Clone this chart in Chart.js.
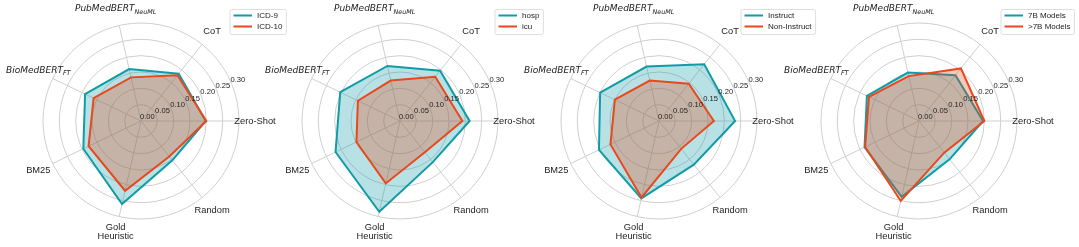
<!DOCTYPE html>
<html>
<head>
<meta charset="utf-8">
<script src="https://cdn.jsdelivr.net/npm/chart.js@4.4.1/dist/chart.umd.min.js"></script>
<style>
  html, body { margin: 0; padding: 0; background: #fff; overflow: hidden; }
  #wrap { position: relative; width: 1079px; height: 247px; }
  canvas { position: absolute; top: 0; }
</style>
</head>
<body>
<div id="wrap">
  <canvas id="radar-0" width="320" height="247"></canvas>
  <canvas id="radar-1" width="320" height="247"></canvas>
  <canvas id="radar-2" width="320" height="247"></canvas>
  <canvas id="radar-3" width="320" height="247"></canvas>
</div>
<script>
// Axes in clockwise order starting at the right (Zero-Shot)
const categories = ['Zero-Shot', 'Random', 'Gold\nHeuristic', 'BM25', 'BioMedBERT_FT', 'PubMedBERT_NeuML', 'CoT'];
const tickValues = [0, 0.05, 0.10, 0.15, 0.20, 0.25, 0.30];
const tickLabels = ['0.00', '0.05', '0.10', '0.15', '0.20', '0.25', '0.30'];

// values: Zero-Shot, Random, Gold Heuristic, BM25, BioMedBERT, PubMedBERT, CoT
const icd9 = [0.198, 0.154, 0.261, 0.196, 0.190, 0.163, 0.185];
const icd10 = [0.200, 0.139, 0.219, 0.178, 0.161, 0.137, 0.179];
const hosp = [0.213, 0.161, 0.285, 0.219, 0.203, 0.173, 0.197];
const icu = [0.191, 0.122, 0.196, 0.148, 0.143, 0.127, 0.173];
const instruct = [0.233, 0.171, 0.243, 0.204, 0.200, 0.171, 0.222];
const nonInstruct = [0.168, 0.109, 0.240, 0.165, 0.150, 0.127, 0.146];
const models7b = [0.196, 0.150, 0.238, 0.185, 0.177, 0.152, 0.179];
const modelsOver7b = [0.200, 0.124, 0.251, 0.183, 0.170, 0.141, 0.206];

const seriesNames = [['ICD-9', 'ICD-10'], ['hosp', 'icu'], ['Instruct', 'Non-Instruct'], ['7B Models', '>7B Models']];
const seriesValues = [[icd9, icd10], [hosp, icu], [instruct, nonInstruct], [models7b, modelsOver7b]];

// layout (pixels)
const centersX = [141, 400, 659, 919];
const legendLeft = [249, 255, 242, 242]; // relative to each canvas

const TEAL = '#109ca6';
const TEAL_FILL = 'rgba(16, 156, 166, 0.3)';
const ORANGE = '#e8481c';
const ORANGE_FILL = 'rgba(232, 72, 28, 0.3)';
const FONT = '"Liberation Sans", Arial, sans-serif';
const MATH_FONT = '"DejaVu Sans", sans-serif';

// Draw an axis label, centred on (x, y); "A_B" means italic A with subscript B
function drawLabel(ctx, label, x, y) {
  const lines = label.split('\n');
  const lineH = 9.5;
  lines.forEach((line, k) => {
    const ly = y + (k - (lines.length - 1) / 2) * lineH;
    ctx.textBaseline = 'middle';
    ctx.fillStyle = '#222';
    if (line.includes('_')) {
      const [main, sub] = line.split('_');
      ctx.font = 'italic 9px ' + MATH_FONT;
      const mw = ctx.measureText(main).width;
      ctx.font = 'italic 6.4px ' + MATH_FONT;
      const sw = ctx.measureText(sub).width;
      const x0 = x - (mw + sw) / 2;
      ctx.textAlign = 'left';
      ctx.font = 'italic 9px ' + MATH_FONT;
      ctx.fillText(main, x0, ly - 1);
      ctx.font = 'italic 6.4px ' + MATH_FONT;
      ctx.fillText(sub, x0 + mw, ly + 2);
    } else {
      ctx.font = '9.3px ' + FONT;
      ctx.textAlign = 'center';
      ctx.fillText(line, x, ly);
    }
  });
}

const radarDecor = {
  id: 'radarDecor',
  afterDatasetsDraw(chart, args, opts) {
    const r = chart.scales.r;
    const ctx = chart.ctx;
    ctx.save();

    // radial tick labels along 22.5 degrees
    ctx.font = '7.6px ' + FONT;
    ctx.fillStyle = '#222';
    ctx.textAlign = 'left';
    ctx.textBaseline = 'bottom';
    const a = -22.5 * Math.PI / 180;
    tickValues.forEach((v, i) => {
      const d = r.getDistanceFromCenterForValue(v);
      ctx.fillText(tickLabels[i], r.xCenter + d * Math.cos(a) - 1, r.yCenter + d * Math.sin(a));
    });

    // axis labels
    chart.data.labels.forEach((lab, i) => {
      const p = r.getPointPosition(i, r.drawingArea + 16);
      drawLabel(ctx, lab, p.x, p.y);
    });

    // legend
    ctx.font = '8px ' + FONT;
    const names = opts.names;
    const textW = Math.max(...names.map(n => ctx.measureText(n).width));
    const x = opts.x, top = 9.5, w = 4 + 18 + 5 + textW + 4, h = 25;
    ctx.beginPath();
    ctx.roundRect(x, top, w, h, 2);
    ctx.fillStyle = 'rgba(255,255,255,0.8)';
    ctx.fill();
    ctx.strokeStyle = '#d6d6d6';
    ctx.lineWidth = 0.8;
    ctx.stroke();
    names.forEach((n, k) => {
      const y = top + 6 + k * 11;
      ctx.beginPath();
      ctx.moveTo(x + 3.5, y);
      ctx.lineTo(x + 22, y);
      ctx.strokeStyle = opts.colors[k];
      ctx.lineWidth = 2;
      ctx.stroke();
      ctx.fillStyle = '#222';
      ctx.textAlign = 'left';
      ctx.textBaseline = 'middle';
      ctx.fillText(n, x + 27, y);
    });
    ctx.restore();
  }
};

seriesValues.forEach((vals, c) => {
  const el = document.getElementById('radar-' + c);
  el.style.left = (centersX[c] - 160) + 'px';
  new Chart(el, {
    type: 'radar',
    data: {
      labels: categories,
      datasets: [
        {
          label: seriesNames[c][0],
          data: vals[0],
          borderColor: TEAL,
          backgroundColor: TEAL_FILL,
          borderWidth: 2,
          pointRadius: 0,
          fill: true,
          order: 2
        },
        {
          label: seriesNames[c][1],
          data: vals[1],
          borderColor: ORANGE,
          backgroundColor: ORANGE_FILL,
          borderWidth: 2,
          pointRadius: 0,
          fill: true,
          order: 1
        }
      ]
    },
    options: {
      responsive: false,
      animation: false,
      layout: { padding: { left: 62, right: 62, top: 23, bottom: 28 } },
      elements: { line: { tension: 0, borderJoinStyle: 'miter' } },
      plugins: {
        legend: { display: false },
        tooltip: { enabled: false },
        radarDecor: { x: legendLeft[c], names: seriesNames[c], colors: [TEAL, ORANGE] }
      },
      scales: {
        r: {
          startAngle: 90,
          min: 0,
          max: 0.3,
          ticks: { stepSize: 0.05, display: false },
          grid: { circular: true, color: '#cfcfcf', lineWidth: 1 },
          angleLines: { color: '#cfcfcf', lineWidth: 1 },
          pointLabels: { display: false }
        }
      }
    },
    plugins: [radarDecor]
  });
});
</script>
</body>
</html>
